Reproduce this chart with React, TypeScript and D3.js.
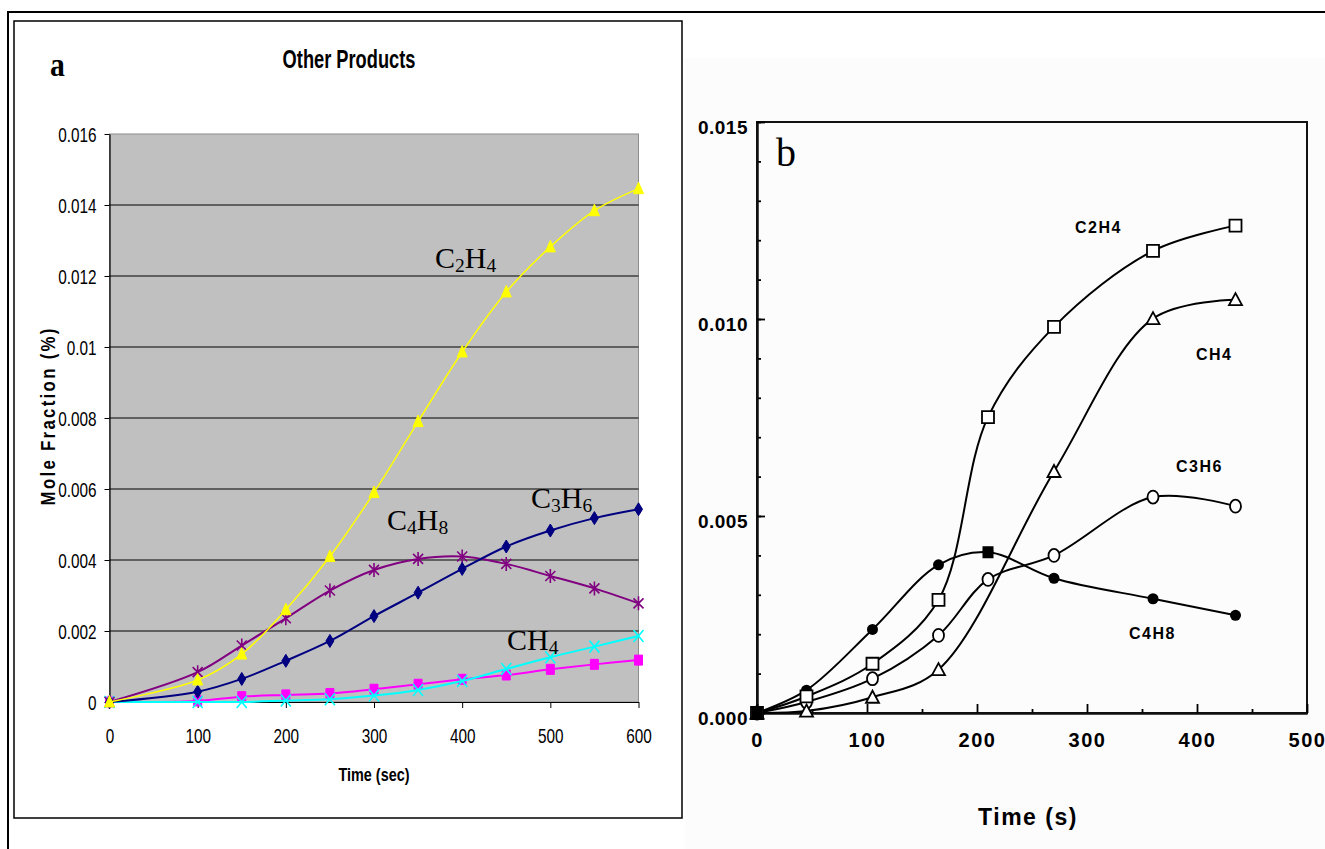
import React, { useEffect, useRef } from "react";
import * as d3 from "d3";

// panel a (Excel chart): time in seconds
const timeA = [0, 100, 150, 200, 250, 300, 350, 400, 450, 500, 550, 600];
const c2h4A = [0, 0.00062, 0.00135, 0.0026, 0.0041, 0.0059, 0.0079, 0.00986, 0.01155, 0.01282, 0.01384, 0.01446];
const c3h6A = [0, 0.00029, 0.00065, 0.00116, 0.00172, 0.00242, 0.00308, 0.00375, 0.00438, 0.00483, 0.00518, 0.00543];
const c4h8A = [0, 0.00084, 0.00159, 0.00236, 0.00314, 0.00372, 0.00403, 0.0041, 0.00389, 0.00355, 0.0032, 0.00278];
const otherA = [0, 0.00003, 0.00015, 0.0002, 0.00024, 0.00036, 0.0005, 0.00064, 0.00076, 0.00092, 0.00106, 0.00118];
const ch4A = [0, 0, 0, 0.00004, 0.00008, 0.00018, 0.00034, 0.00059, 0.00093, 0.00126, 0.00156, 0.00186];
const yTicksA = [0, 0.002, 0.004, 0.006, 0.008, 0.01, 0.012, 0.014, 0.016];
const xTicksA = [0, 100, 200, 300, 400, 500, 600];

// panel b (scanned figure)
const timeB = [0, 45, 105, 165, 210, 270, 360, 435];
const c2h4B = [0, 0.00042, 0.00125, 0.00287, 0.00751, 0.0098, 0.01173, 0.01237];
const ch4B = [0, 0.00005, 0.0004, 0.0011, null, 0.00613, 0.01001, 0.01049];
const c3h6B = [0, 0.00028, 0.00087, 0.00197, 0.00339, 0.004, 0.00548, 0.00525];
const c4h8B = [0, 0.00058, 0.00212, 0.00376, 0.00408, 0.00342, 0.0029, 0.00248];
const yTicksB = [0, 0.005, 0.01, 0.015];
const yMinorB = d3.range(0, 16).map(i => i * 0.001);
const xTicksB = [0, 100, 200, 300, 400, 500];
const xMinorB = [50, 150, 250, 350, 450];

const SANS = "'Liberation Sans', Arial, sans-serif";
const SERIF = "'Liberation Serif', 'Times New Roman', serif";

const marks: Record<string, string> = {
  triangle: "M0,-6.5L5,5L-5,5Z",
  diamond: "M0,-6.5L4,0L0,6.5L-4,0Z",
  square: "M-4,-5h8v10h-8Z",
  cross: "M-5,-6L5,6M-5,6L5,-6",
  star: "M-5,-5L5,5M-5,5L5,-5M0,-7L0,7",
  bSquare: "M-6,-6h12v12h-12Z",
  bTriangle: "M0,-6.5L6.5,5.5L-6.5,5.5Z",
  bFillSquare: "M-5.5,-6h11v12h-11Z",
};

export default function App() {
  const ref = useRef<SVGSVGElement>(null);

  useEffect(() => {
    const svg = d3.select(ref.current);
    svg.selectAll("*").remove();

    // panel b faint scan background
    svg.append("rect").attr("x", 685).attr("y", 58).attr("width", 640).attr("height", 791).attr("fill", "#fcfcfc");

    // outer frame
    svg.append("path").attr("d", "M8,849L8,12L1325,12").attr("fill", "none").attr("stroke", "#000").attr("stroke-width", 2);

    drawA(svg);
    drawB(svg);
  }, []);

  return (
    <svg
      ref={ref}
      width={1325}
      height={849}
      style={{ position: "absolute", left: 0, top: 0, background: "#fff" }}
    />
  );
}

function subLabel(g: any, x: number, y: number, parts: [string, boolean][], size: number, family: string, weight = "normal") {
  const t = g.append("text").attr("x", x).attr("y", y).attr("font-family", family)
    .attr("font-size", size).attr("font-weight", weight).attr("fill", "#000");
  let shifted = false;
  parts.forEach(([s, sub]) => {
    const ts = t.append("tspan").text(s);
    if (sub) { ts.attr("font-size", size * 0.65).attr("dy", shifted ? 0 : 4); shifted = true; }
    else if (shifted) { ts.attr("dy", -4); shifted = false; }
  });
}

function drawA(svg: any) {
  const x = d3.scaleLinear().domain([0, 600]).range([109.5, 638.5]);
  const y = d3.scaleLinear().domain([0, 0.016]).range([702, 134]);
  const g = svg.append("g");
  const sx = 0.73;

  g.append("rect").attr("x", 14).attr("y", 21).attr("width", 668).attr("height", 797)
    .attr("fill", "#fff").attr("stroke", "#000").attr("stroke-width", 1.5);

  // plot area
  g.append("rect").attr("x", x(0)).attr("y", y(0.016)).attr("width", x(600) - x(0)).attr("height", y(0) - y(0.016))
    .attr("fill", "#c0c0c0").attr("stroke", "#8c8c8c").attr("stroke-width", 1);

  g.selectAll(".grid").data(yTicksA.filter(v => v > 0 && v < 0.016)).enter().append("line")
    .attr("x1", x(0)).attr("x2", x(600)).attr("y1", d => y(d)).attr("y2", d => y(d))
    .attr("stroke", "#000").attr("stroke-width", 1);

  // axes
  const yAxis = g.append("g").attr("transform", `translate(${x(0)},0)`)
    .call(d3.axisLeft(y).tickValues(yTicksA).tickSize(5).tickSizeOuter(0).tickFormat((d: any) => String(+(+d).toFixed(3))));
  yAxis.selectAll("text").attr("x", -13 / sx).attr("dy", "0.35em").attr("transform", `scale(${sx},1)`)
    .attr("font-family", SANS).attr("font-size", 21).attr("fill", "#000");
  const xAxis = g.append("g").attr("transform", `translate(0,${y(0)})`)
    .call(d3.axisBottom(x).tickValues(xTicksA).tickSize(6).tickSizeOuter(0));
  xAxis.selectAll("text").attr("y", 41).attr("dy", 0).attr("x", 0).attr("transform", `scale(${sx},1)`)
    .attr("font-family", SANS).attr("font-size", 21).attr("fill", "#000");
  [yAxis, xAxis].forEach(a => { a.selectAll("path,line").attr("stroke", "#000"); a.select(".domain").attr("stroke-width", 1.2); });

  // series
  const series = [
    { v: otherA, color: "#ff00ff", mark: "square", w: 2, fill: true },
    { v: ch4A, color: "#00ffff", mark: "cross", w: 2, fill: false },
    { v: c4h8A, color: "#800080", mark: "star", w: 2, fill: false },
    { v: c3h6A, color: "#000080", mark: "diamond", w: 2, fill: true },
    { v: c2h4A, color: "#ffff00", mark: "triangle", w: 1.5, fill: true },
  ];
  series.forEach(s => {
    const line = d3.line<number>().x((_, i) => x(timeA[i])).y(d => y(d)).curve(d3.curveCatmullRom);
    g.append("path").attr("d", line(s.v)).attr("fill", "none").attr("stroke", s.color).attr("stroke-width", s.w);
    g.selectAll(null).data(s.v).enter().append("path")
      .attr("transform", (d, i) => `translate(${x(timeA[i])},${y(d)})`)
      .attr("d", marks[s.mark])
      .attr("fill", s.fill ? s.color : "none")
      .attr("stroke", s.color).attr("stroke-width", s.fill ? 1 : 1.6);
  });

  // titles
  g.append("text").attr("transform", `translate(349,68) scale(${sx},1)`).attr("text-anchor", "middle")
    .attr("font-family", SANS).attr("font-weight", "bold").attr("font-size", 25).text("Other Products");
  g.append("text").attr("transform", `translate(374,781) scale(0.76,1)`).attr("text-anchor", "middle")
    .attr("font-family", SANS).attr("font-weight", "bold").attr("font-size", 19).text("Time (sec)");
  g.append("text").attr("transform", "translate(55,417) rotate(-90) scale(0.8,1)").attr("text-anchor", "middle")
    .attr("font-family", SANS).attr("font-weight", "bold").attr("font-size", 21)
    .attr("textLength", 221).attr("lengthAdjust", "spacing").text("Mole Fraction (%)");
  g.append("text").attr("transform", "translate(50,76) scale(0.9,1)")
    .attr("font-family", SERIF).attr("font-weight", "bold").attr("font-size", 33).text("a");

  subLabel(g, 435, 268, [["C", false], ["2", true], ["H", false], ["4", true]], 30, SERIF);
  subLabel(g, 531, 508, [["C", false], ["3", true], ["H", false], ["6", true]], 30, SERIF);
  subLabel(g, 387, 530, [["C", false], ["4", true], ["H", false], ["8", true]], 30, SERIF);
  subLabel(g, 507, 650, [["CH", false], ["4", true]], 30, SERIF);
}

function drawB(svg: any) {
  const x = d3.scaleLinear().domain([0, 500]).range([757, 1307]);
  const y = d3.scaleLinear().domain([0, 0.015]).range([713, 122]);
  const g = svg.append("g");

  g.append("rect").attr("x", x(0)).attr("y", y(0.015)).attr("width", x(500) - x(0)).attr("height", y(0) - y(0.015))
    .attr("fill", "none").attr("stroke", "#111").attr("stroke-width", 2);

  // inside ticks
  const ax1 = g.append("g").attr("transform", `translate(${x(0)},0)`)
    .call(d3.axisLeft(y).tickValues(yMinorB).tickSize(-4).tickSizeOuter(0).tickFormat(() => ""));
  const ax2 = g.append("g").attr("transform", `translate(${x(0)},0)`)
    .call(d3.axisLeft(y).tickValues(yTicksB).tickSize(-8).tickSizeOuter(0).tickFormat(d3.format(".3f") as any));
  ax2.selectAll("text").attr("x", -9).attr("y", 4.5).attr("dy", "0.35em")
    .attr("font-family", SANS).attr("font-weight", "bold").attr("font-size", 19).attr("letter-spacing", 0.5).attr("fill", "#000");
  const ax3 = g.append("g").attr("transform", `translate(0,${y(0)})`)
    .call(d3.axisBottom(x).tickValues(xMinorB).tickSize(-4).tickSizeOuter(0).tickFormat(() => ""));
  const ax4 = g.append("g").attr("transform", `translate(0,${y(0)})`)
    .call(d3.axisBottom(x).tickValues(xTicksB).tickSize(-9).tickSizeOuter(0));
  ax4.selectAll("text").attr("y", 34).attr("dy", 0)
    .attr("font-family", SANS).attr("font-weight", "bold").attr("font-size", 20)
    .attr("letter-spacing", 1.5).attr("fill", "#000");
  [ax1, ax2, ax3, ax4].forEach(a => {
    a.selectAll("line").attr("stroke", "#000").attr("stroke-width", 1.8);
    a.select(".domain").attr("stroke", "#111").attr("stroke-width", 2);
  });

  const series = [
    { v: c4h8B, mark: "dot" },
    { v: c3h6B, mark: "ring" },
    { v: ch4B, mark: "bTriangle" },
    { v: c2h4B, mark: "bSquare" },
  ];
  series.forEach(s => {
    const pts = timeB.map((t, i) => [t, s.v[i]] as [number, number | null]).filter(p => p[1] !== null) as [number, number][];
    const line = d3.line<[number, number]>().x(p => x(p[0])).y(p => y(p[1])).curve(d3.curveCatmullRom);
    g.append("path").attr("d", line(pts)).attr("fill", "none").attr("stroke", "#000").attr("stroke-width", 2);
    const m = g.selectAll(null).data(pts).enter();
    if (s.mark === "dot") {
      m.append("circle").attr("cx", p => x(p[0])).attr("cy", p => y(p[1])).attr("r", 5.5).attr("fill", "#000");
    } else if (s.mark === "ring") {
      m.append("ellipse").attr("cx", p => x(p[0])).attr("cy", p => y(p[1])).attr("rx", 5.5).attr("ry", 6.5)
        .attr("fill", "#fff").attr("stroke", "#000").attr("stroke-width", 1.8);
    } else {
      m.append("path").attr("transform", p => `translate(${x(p[0])},${y(p[1])})`).attr("d", marks[s.mark])
        .attr("fill", "#fff").attr("stroke", "#000").attr("stroke-width", 1.8);
    }
  });
  // filled marker at the C4H8 maximum and the origin
  g.append("path").attr("transform", `translate(${x(timeB[4])},${y(c4h8B[4])})`).attr("d", marks.bFillSquare).attr("fill", "#000");
  g.append("path").attr("transform", `translate(${x(timeB[0])},${y(c4h8B[0])})`).attr("d", marks.bFillSquare).attr("fill", "#000");

  const lab = (t: string, lx: number, ly: number) =>
    g.append("text").attr("x", lx).attr("y", ly).attr("font-family", SANS).attr("font-weight", "bold")
      .attr("font-size", 16).attr("letter-spacing", 1.5).attr("fill", "#000").text(t);
  lab("C2H4", 1075, 233);
  lab("CH4", 1196, 360);
  lab("C3H6", 1176, 472);
  lab("C4H8", 1129, 639);

  g.append("text").attr("x", 1028).attr("y", 825).attr("text-anchor", "middle").attr("font-family", SANS)
    .attr("font-weight", "bold").attr("font-size", 23).attr("letter-spacing", 1.5).text("Time (s)");
  g.append("text").attr("x", 776).attr("y", 166).attr("font-family", SERIF).attr("font-size", 40).text("b");
}
